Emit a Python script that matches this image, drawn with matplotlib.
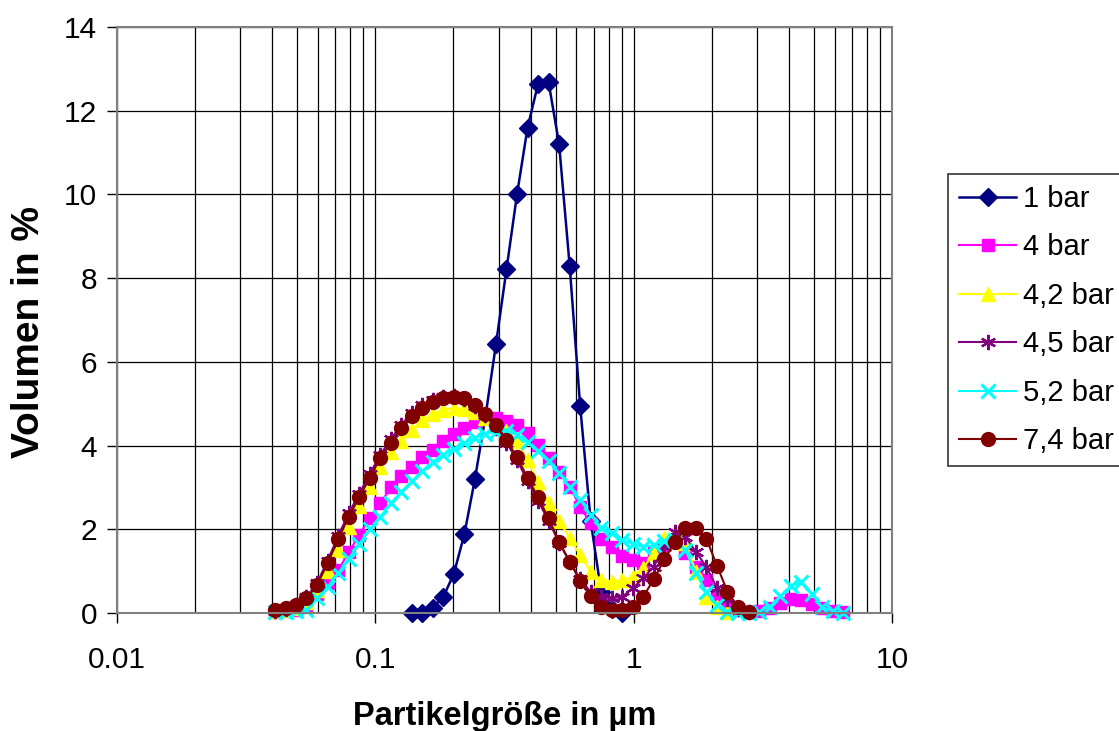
import matplotlib
matplotlib.use("Agg")
import matplotlib.pyplot as plt
from matplotlib.ticker import FixedLocator, LogLocator, NullFormatter

# particle size channels (µm)
sizes = [0.0410, 0.0450, 0.0494, 0.0542, 0.0596, 0.0654, 0.0719, 0.0789, 0.0867, 0.0952,
         0.1046, 0.1149, 0.1261, 0.1385, 0.1521, 0.1671, 0.1835, 0.2015, 0.2213, 0.2430,
         0.2669, 0.2931, 0.3219, 0.3535, 0.3882, 0.4264, 0.4683, 0.5143, 0.5649, 0.6203,
         0.6813, 0.7482, 0.8217, 0.9026, 0.9913, 1.0887, 1.1956, 1.3131, 1.4421, 1.5838,
         1.7395, 1.9104, 2.0981, 2.3042, 2.5307, 2.7794, 3.0525, 3.3524, 3.6813, 4.0442,
         4.4413, 4.8776, 5.3568, 5.8832, 6.4613]

sizes_1bar = [0.1385, 0.1521, 0.1671, 0.1835, 0.2015, 0.2213, 0.2430, 0.2669, 0.2931, 0.3219,
              0.3535, 0.3882, 0.4264, 0.4683, 0.5143, 0.5649, 0.6203, 0.6813, 0.7482, 0.8217,
              0.9026]
vol_1bar = [0.0, 0.0, 0.13, 0.39, 0.94, 1.89, 3.2, 4.7, 6.42, 8.21,
            10.0, 11.59, 12.64, 12.68, 11.2, 8.3, 4.95, 2.2, 0.5, 0.1,
            0.0]

vol_4bar = [0.02, 0.04, 0.08, 0.18, 0.45, 0.72, 1.02, 1.45, 1.86, 2.28,
            2.62, 3.0, 3.27, 3.5, 3.73, 3.9, 4.1, 4.28, 4.43, 4.57,
            4.65, 4.65, 4.58, 4.49, 4.29, 4.02, 3.70, 3.38, 3.02, 2.54,
            2.14, 1.76, 1.57, 1.37, 1.27, 1.20, 1.43, 1.62, 1.74, 1.43,
            1.11, 0.79, 0.39, 0.19, 0.06, 0.02, 0.05, 0.13, 0.25, 0.33,
            0.32, 0.22, 0.12, 0.05, 0.02]

vol_42bar = [0.04, 0.07, 0.13, 0.27, 0.55, 1.0, 1.5, 2.05, 2.55, 3.0,
             3.5, 3.85, 4.12, 4.38, 4.6, 4.76, 4.85, 4.9, 4.88, 4.8,
             4.66, 4.5, 4.35, 4.1, 3.65, 3.12, 2.62, 2.2, 1.8, 1.38,
             0.99, 0.79, 0.75, 0.79, 0.87, 1.07, 1.43, 1.78, 1.95, 1.67,
             0.99, 0.39, 0.15, 0.03]

vol_45bar = [0.05, 0.1, 0.2, 0.38, 0.72, 1.25, 1.84, 2.38, 2.85, 3.32,
             3.78, 4.15, 4.5, 4.78, 4.97, 5.1, 5.17, 5.18, 5.12, 4.95,
             4.72, 4.43, 4.07, 3.65, 3.16, 2.68, 2.2, 1.68, 1.22, 0.82,
             0.5, 0.39, 0.35, 0.39, 0.59, 0.83, 1.11, 1.58, 1.94, 1.82,
             1.46, 1.1, 0.6, 0.33, 0.1, 0.02]

vol_52bar = [0.02, 0.03, 0.04, 0.07, 0.35, 0.62, 0.95, 1.3, 1.65, 2.0,
             2.3, 2.62, 2.9, 3.15, 3.4, 3.6, 3.78, 3.93, 4.05, 4.18,
             4.27, 4.33, 4.35, 4.25, 4.08, 3.87, 3.62, 3.34, 3.02, 2.70,
             2.34, 2.04, 1.90, 1.74, 1.65, 1.58, 1.62, 1.72, 1.75, 1.5,
             0.95, 0.51, 0.19, 0.03, 0.0, 0.0, 0.03, 0.15, 0.4, 0.65,
             0.73, 0.45, 0.15, 0.04, 0.01]

vol_74bar = [0.07, 0.11, 0.19, 0.35, 0.67, 1.19, 1.76, 2.30, 2.76, 3.23,
             3.70, 4.07, 4.43, 4.71, 4.89, 5.03, 5.13, 5.17, 5.13, 4.97,
             4.75, 4.49, 4.13, 3.72, 3.23, 2.76, 2.26, 1.70, 1.23, 0.76,
             0.41, 0.14, 0.07, 0.06, 0.14, 0.39, 0.81, 1.28, 1.70, 2.02,
             2.02, 1.77, 1.13, 0.51, 0.14, 0.03]

labels = ["1 bar", "4 bar", "4,2 bar", "4,5 bar", "5,2 bar", "7,4 bar"]
x_ticks = [0.01, 0.1, 1, 10]
x_ticklabels = ["0.01", "0.1", "1", "10"]
y_ticks = [0, 2, 4, 6, 8, 10, 12, 14]

plt.rcParams['font.family'] = ['Liberation Sans', 'DejaVu Sans']

fig = plt.figure(figsize=(11.19, 7.31), dpi=100)
ax = fig.add_axes([116.7 / 1119, 1 - 613 / 731, 775.6 / 1119, 586 / 731])

styles = [
    dict(color="#000080", marker="D", ms=9, lw=1.8),
    dict(color="#FF00FF", marker="s", ms=9, lw=1.5),
    dict(color="#FFFF00", marker="^", ms=10, lw=1.5),
    dict(color="#800080", marker=(6, 2, 0), ms=11, mew=1.6, lw=1.5),
    dict(color="#00FFFF", marker="x", ms=10, mew=2.2, lw=1.5),
    dict(color="#800000", marker="o", ms=10, lw=1.5),
]
xs = [sizes_1bar, sizes, sizes, sizes, sizes, sizes]
ys = [vol_1bar, vol_4bar, vol_42bar, vol_45bar, vol_52bar, vol_74bar]
for x, y, lab, st in zip(xs, ys, labels, styles):
    ax.plot(x[:len(y)], y, label=lab, clip_on=False, **st)

ax.set_xscale("log")
ax.set_xlim(0.01, 10)
ax.set_ylim(0, 14)
ax.xaxis.set_major_locator(FixedLocator(x_ticks))
ax.set_xticklabels(x_ticklabels)
ax.xaxis.set_minor_locator(LogLocator(base=10, subs=range(2, 10)))
ax.xaxis.set_minor_formatter(NullFormatter())
ax.set_yticks(y_ticks)

ax.grid(which="major", axis="both", color="black", lw=0.9)
ax.grid(which="minor", axis="x", color="black", lw=0.9)
ax.set_axisbelow(True)
for s in ax.spines.values():
    s.set_color("#808080")
    s.set_linewidth(1.5)

ax.tick_params(axis="both", which="major", labelsize=21.5, length=7, width=1, color="black")
ax.tick_params(axis="y", pad=7)
ax.tick_params(axis="x", pad=17)
ax.tick_params(which="minor", length=0)

ax.set_xlabel("Partikelgröße in µm", fontsize=23.5, fontweight="bold")
ax.set_ylabel("Volumen in %", fontsize=28, fontweight="bold")
ax.xaxis.set_label_coords(0.5, (613 - 716) / 586)
ax.xaxis.label.set_va("center")
ax.yaxis.set_label_coords((29 - 116.7) / 775.6, 0.48)
ax.yaxis.label.set_va("center")

leg = fig.legend(loc="upper left", bbox_to_anchor=(948 / 1119, 1 - 174 / 731),
                 fontsize=21, frameon=True, fancybox=False, edgecolor="black",
                 handlelength=1.95, handletextpad=0.25, labelspacing=0.70,
                 borderpad=0.38, borderaxespad=0)
leg.get_frame().set_linewidth(1.2)

fig.savefig("out.png", dpi=100)
